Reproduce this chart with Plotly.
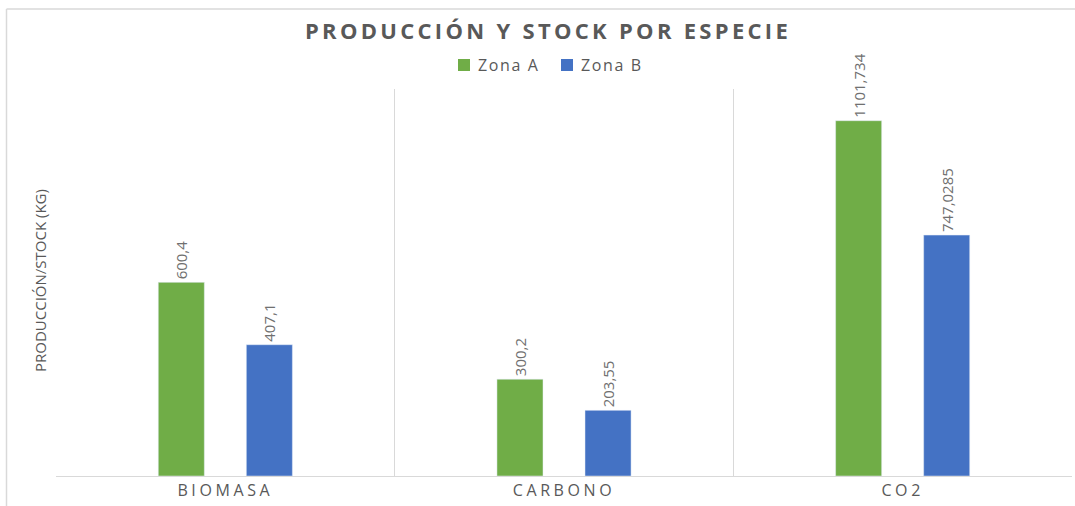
import plotly.graph_objects as go

categories = ["BIOMASA", "CARBONO", "CO2"]
series_names = ["Zona A", "Zona B"]
zona_a = [600.4, 300.2, 1101.734]
zona_b = [407.1, 203.55, 747.0285]
zona_a_labels = ["600,4", "300,2", "1101,734"]
zona_b_labels = ["407,1", "203,55", "747,0285"]
colors = ["#70AD47", "#4472C4"]

W, H = 1075, 506
L, R, T, B = 56, 3, 89, 30
PW, PH = W - L - R, H - T - B

GREY = "#595959"
LABEL_GREY = "#707070"
GRID = "#D9D9D9"
SANS = "Open Sans, DejaVu Sans, sans-serif"


def px_x(p):
    return (p - L) / PW


def px_y(p):
    return (H - B - p) / PH


def spaced(text, px):
    return f'<span style="letter-spacing:{px}px">{text}</span>'


fig = go.Figure()
for name, vals, labels, col in zip(series_names, [zona_a, zona_b],
                                   [zona_a_labels, zona_b_labels], colors):
    fig.add_trace(go.Bar(
        name=name, x=categories, y=vals, marker_color=col,
        text=labels, textposition="outside", textangle=-90,
        textfont=dict(family=SANS, size=15, color=LABEL_GREY),
        cliponaxis=False, constraintext="none", showlegend=False,
    ))

# chart frame (top and left edge)
shapes = [
    dict(type="line", xref="paper", yref="paper", line=dict(color=GRID, width=1.5),
         x0=px_x(6.5), x1=px_x(W), y0=px_y(9), y1=px_y(9)),
    dict(type="line", xref="paper", yref="paper", line=dict(color=GRID, width=1.5),
         x0=px_x(6.5), x1=px_x(6.5), y0=px_y(9), y1=px_y(H)),
]

# legend: colour square followed by the series name
annotations = []
legend_x = [458, 561]
for name, col, lx in zip(series_names, colors, legend_x):
    shapes.append(dict(type="rect", xref="paper", yref="paper", line=dict(width=0),
                       fillcolor=col, x0=px_x(lx), x1=px_x(lx + 12),
                       y0=px_y(59), y1=px_y(71)))
    annotations.append(dict(
        text=spaced(name, 1.6), xref="paper", yref="paper",
        x=px_x(lx + 18), y=px_y(65), xanchor="left", yanchor="middle",
        showarrow=False, font=dict(family=SANS, size=16, color=GREY),
    ))

annotations.append(dict(
    text="PRODUCCIÓN/STOCK (KG)", xref="paper", yref="paper",
    x=px_x(40), y=px_y(281), xanchor="center", yanchor="middle",
    textangle=-90, showarrow=False,
    font=dict(family=SANS, size=15, color=GREY),
))

fig.update_layout(
    width=W, height=H,
    margin=dict(l=L, r=R, t=T, b=B),
    paper_bgcolor="white", plot_bgcolor="white",
    barmode="group", bargap=0.48, bargroupgap=0.477,
    title=dict(
        text="<b>" + spaced("PRODUCCIÓN Y STOCK POR ESPECIE", 3.3) + "</b>",
        x=px_x(548), xanchor="center", xref="paper",
        y=1 - 31 / H, yanchor="middle",
        font=dict(family=SANS, size=22, color=GREY),
    ),
    xaxis=dict(
        type="category", tickson="boundaries", showgrid=True, gridcolor=GRID, gridwidth=1,
        showline=True, linecolor=GRID, linewidth=1,
        ticks="", ticklen=0,
        tickvals=categories, ticktext=[spaced(c, 3.6) for c in categories],
        tickfont=dict(family=SANS, size=16, color=GREY),
    ),
    yaxis=dict(range=[0, 1200], visible=False, fixedrange=True),
    shapes=shapes,
    annotations=annotations,
    showlegend=False,
)

fig.write_html("out.html")
